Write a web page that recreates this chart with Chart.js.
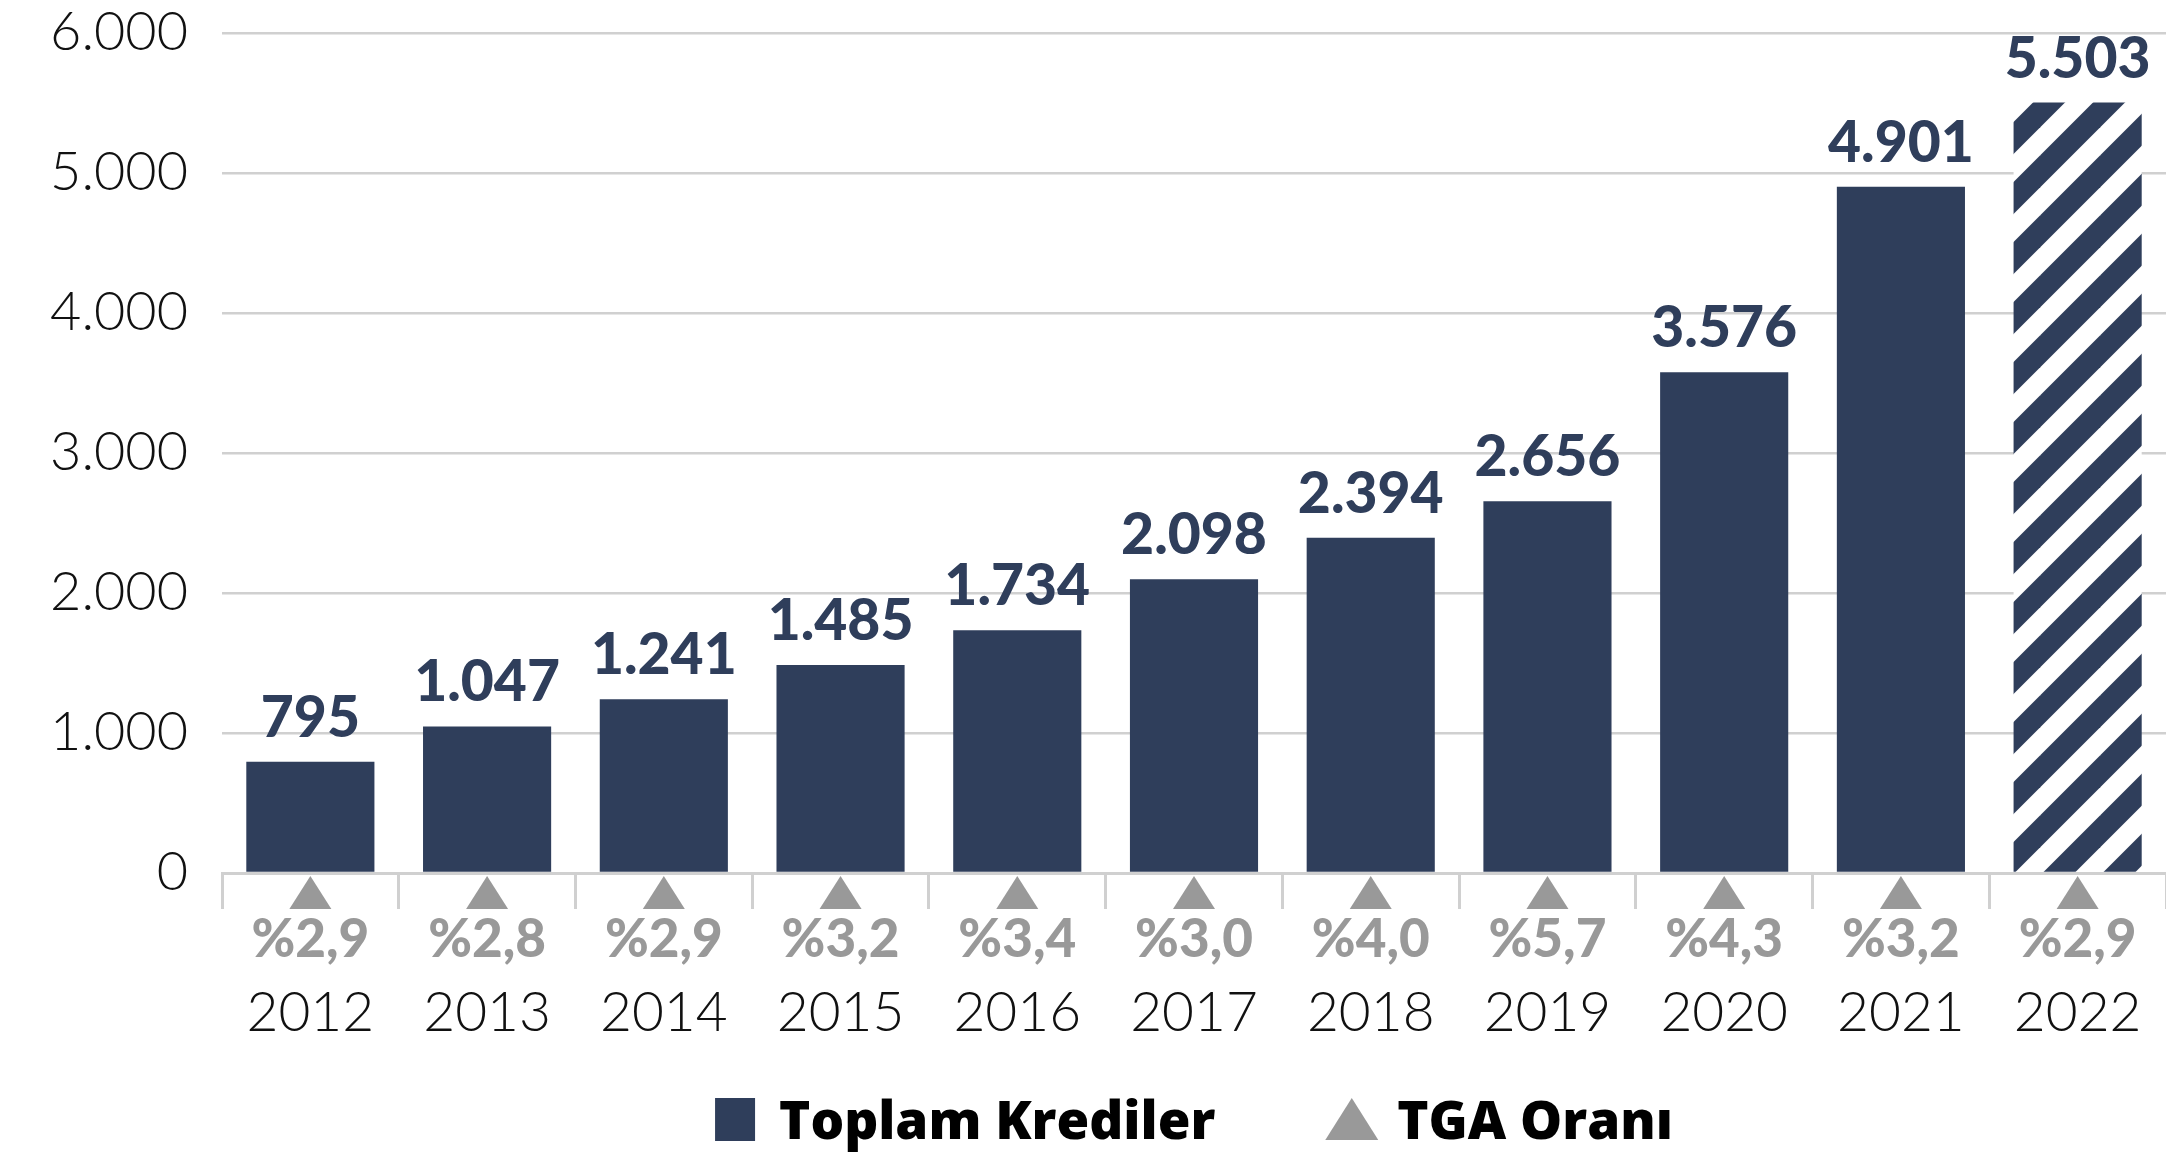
<!DOCTYPE html>
<html>
<head>
<meta charset="utf-8">
<script src="https://cdn.jsdelivr.net/npm/chart.js@4.4.1/dist/chart.umd.min.js"></script>
<style>
  html, body { margin: 0; padding: 0; background: #fff; overflow: hidden; }
</style>
</head>
<body>
<canvas id="myChart" width="2166" height="1158"></canvas>
<script>
// veriler
const yillar = ['2012', '2013', '2014', '2015', '2016', '2017', '2018', '2019', '2020', '2021', '2022'];
const toplamKrediler = [795, 1047, 1241, 1485, 1734, 2098, 2394, 2656, 3576, 4901, 5503];
const tgaOrani = [2.9, 2.8, 2.9, 3.2, 3.4, 3.0, 4.0, 5.7, 4.3, 3.2, 2.9];
const yEksenTikleri = [0, 1000, 2000, 3000, 4000, 5000, 6000];
const seriAdlari = ['Toplam Krediler', 'TGA Oranı'];

const lacivert = '#2f3e5b';
const gri = '#999999';
const cizgi = '#d0d0d0';

const binlik = n => String(n).replace(/\B(?=(\d{3})+(?!\d))/g, '.');
const yuzde = v => '%' + v.toFixed(1).replace('.', ',');

// 2022 icin tahmin - taralı desen
function taramaDeseni() {
    const s = 60;
    const c = document.createElement('canvas');
    c.width = s; c.height = s;
    const g = c.getContext('2d');
    g.fillStyle = '#fff';
    g.fillRect(0, 0, s, s);
    g.strokeStyle = lacivert;
    g.lineWidth = 32 / Math.SQRT2;
    [-68.5, -8.5, 51.5, 111.5, 171.5].forEach(k => {
        g.beginPath();
        g.moveTo(-60, k + 60);
        g.lineTo(k + 60, -60);
        g.stroke();
    });
    return g.createPattern(c, 'repeat');
}

const barRenkleri = toplamKrediler.map((v, i) => i === toplamKrediler.length - 1 ? taramaDeseni() : lacivert);

// bar ustu degerler, ucgenler, yuzdeler ve lejant
const ekYazilar = {
    id: 'ekYazilar',
    afterDatasetsDraw(chart) {
        const { ctx, chartArea, scales: { x } } = chart;
        const meta = chart.getDatasetMeta(0);
        ctx.save();

        ctx.font = '900 57px Lato';
        ctx.fillStyle = lacivert;
        ctx.textAlign = 'center';
        ctx.textBaseline = 'alphabetic';
        meta.data.forEach((bar, i) => {
            ctx.fillText(binlik(toplamKrediler[i]), bar.x, bar.y - 25);
        });

        ctx.fillStyle = gri;
        ctx.font = '900 53px Lato';
        tgaOrani.forEach((v, i) => {
            const cx = x.getPixelForValue(i);
            const ust = chartArea.bottom + 3;
            ctx.beginPath();
            ctx.moveTo(cx, ust);
            ctx.lineTo(cx + 21, ust + 33);
            ctx.lineTo(cx - 21, ust + 33);
            ctx.closePath();
            ctx.fill();
            ctx.fillText(yuzde(v), cx, chartArea.bottom + 84);
        });

        // lejant
        ctx.font = '800 53px "Open Sans"';
        ctx.textAlign = 'left';
        const w1 = ctx.measureText(seriAdlari[0]).width;
        const w2 = ctx.measureText(seriAdlari[1]).width;
        const toplam = 40 + 24 + w1 + 110 + 53 + 19 + w2;
        let lx = (chartArea.left + chartArea.right) / 2 - toplam / 2;
        const ly = 1098;
        ctx.fillStyle = lacivert;
        ctx.fillRect(lx, ly, 40, 43);
        lx += 64;
        ctx.fillStyle = '#000';
        ctx.fillText(seriAdlari[0], lx, ly + 41);
        lx += w1 + 110;
        ctx.fillStyle = gri;
        ctx.beginPath();
        ctx.moveTo(lx + 26.5, ly);
        ctx.lineTo(lx + 53, ly + 42);
        ctx.lineTo(lx, ly + 42);
        ctx.closePath();
        ctx.fill();
        lx += 72;
        ctx.fillStyle = '#000';
        ctx.fillText(seriAdlari[1], lx, ly + 41);

        ctx.restore();
    }
};

const ctx = document.getElementById('myChart').getContext('2d');
const myChart = new Chart(ctx, {
    type: 'bar',
    data: {
        labels: yillar,
        datasets: [{
            label: seriAdlari[0],
            data: toplamKrediler,
            backgroundColor: barRenkleri,
            barPercentage: 0.725,
            categoryPercentage: 1
        }]
    },
    options: {
        responsive: false,
        animation: false,
        layout: { padding: { top: 33, right: 0, left: 0, bottom: 0 } },
        plugins: {
            legend: { display: false },
            tooltip: { enabled: false }
        },
        scales: {
            x: {
                grid: {
                    drawOnChartArea: false,
                    drawTicks: true,
                    tickLength: 36,
                    color: cizgi,
                    lineWidth: 3
                },
                border: { display: true, color: cizgi, width: 3 },
                ticks: {
                    color: '#111',
                    font: { family: 'Lato', size: 55, weight: 300 },
                    padding: 71,
                    maxRotation: 0
                },
                afterFit: s => { s.height = 285; s.paddingLeft = 0; s.paddingRight = 0; }
            },
            y: {
                min: yEksenTikleri[0],
                max: yEksenTikleri[yEksenTikleri.length - 1],
                grid: { color: cizgi, lineWidth: 2.5, drawTicks: false },
                border: { display: false },
                ticks: {
                    stepSize: yEksenTikleri[1] - yEksenTikleri[0],
                    color: '#111',
                    font: { family: 'Lato', size: 54, weight: 300 },
                    padding: 34,
                    callback: v => binlik(v)
                },
                afterFit: s => { s.width = 222; s.paddingTop = 0; s.paddingBottom = 0; }
            }
        }
    },
    plugins: [ekYazilar]
});
</script>
</body>
</html>
